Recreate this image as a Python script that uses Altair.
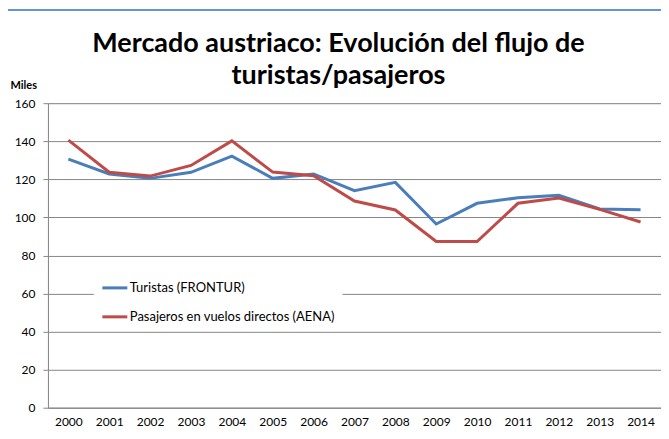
import altair as alt
import pandas as pd

years = [str(y) for y in range(2000, 2015)]
turistas = [130.6, 122.8, 120.5, 123.7, 132.2, 120.5, 122.8, 114.0, 118.4, 96.5, 107.4, 110.3, 111.6, 104.4, 104.0]
pasajeros = [140.6, 123.7, 121.7, 127.3, 140.2, 123.8, 121.9, 108.6, 103.9, 87.3, 87.3, 107.4, 110.2, 104.2, 97.6]
series_names = ["Turistas (FRONTUR)", "Pasajeros en vuelos directos (AENA)"]
series_colors = ["#4A7EBB", "#BE4B48"]
title_lines = ["Mercado austriaco: Evolución del flujo de", "turistas/pasajeros"]

df = pd.DataFrame({"year": years, series_names[0]: turistas, series_names[1]: pasajeros})
long = df.melt(id_vars="year", var_name="serie", value_name="valor")

FONT = "Lato"

lines = alt.Chart(long).mark_line(strokeWidth=3).encode(
    x=alt.X("year:O", scale=alt.Scale(type="point", padding=0.5),
            axis=alt.Axis(title=None, ticks=False, labelAngle=0, labelPadding=9,
                          domainColor="#868686", labelFontSize=12, labelColor="#000", labelFont=FONT,
                          grid=False)),
    y=alt.Y("valor:Q", scale=alt.Scale(domain=[0, 160]),
            axis=alt.Axis(values=list(range(0, 161, 20)), title="Miles", titleAngle=0,
                          titleAlign="left", titleBaseline="middle", titleX=-38, titleY=-18,
                          titleFontSize=11, titleFont=FONT, titleFontWeight="bold", titleColor="#000",
                          tickSize=5, tickColor="#868686", domainColor="#868686",
                          gridColor="#868686", labelPadding=8, labelFontSize=12,
                          labelColor="#000", labelFont=FONT)),
    color=alt.Color("serie:N", sort=series_names,
                    scale=alt.Scale(domain=series_names, range=series_colors),
                    legend=alt.Legend(title=None, orient="none", legendX=46, legendY=164,
                                      symbolType="stroke", symbolSize=625, symbolStrokeWidth=3,
                                      labelFontSize=13, labelFont=FONT, labelColor="#000",
                                      labelOffset=1, rowPadding=8, padding=7, labelLimit=0,
                                      fillColor="white")),
)

frame_left = alt.Chart(long).mark_rule(color="#6593D3", strokeWidth=1.3).encode(
    x=alt.value(-43), y=alt.value(-93), y2=alt.value(340))
frame_top = alt.Chart(long).mark_rule(color="#6593D3", strokeWidth=1.3).encode(
    x=alt.value(-43), x2=alt.value(625), y=alt.value(-93))

chart = alt.layer(frame_left, frame_top, lines).properties(
    width=614, height=305,
    autosize=alt.AutoSizeParams(type="none"),
    padding={"left": 40, "top": 95, "right": 0, "bottom": 23},
    title=alt.TitleParams(text=title_lines, fontSize=27, font=FONT, fontWeight="bold",
                          color="#000", anchor="middle", dx=-16, offset=0, dy=80, lineHeight=32),
).configure_view(stroke=None).configure(background="white")

chart.save("out.html", embed_options={"renderer": "svg", "actions": False})
